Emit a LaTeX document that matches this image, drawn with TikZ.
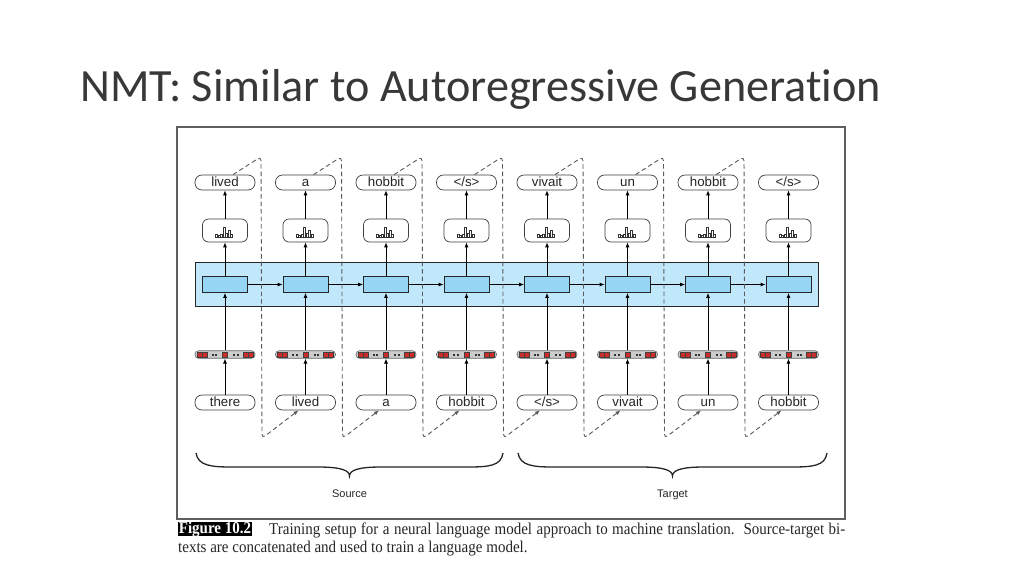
\documentclass[tikz,border=0pt]{standalone}
\usepackage{fontspec}
\setmainfont{Liberation Serif}
\newfontfamily\wordfont{Liberation Sans}
\newfontfamily\titlefont[Ligatures=NoCommon]{Carlito}
\newfontfamily\capfont[FakeStretch=0.91]{Liberation Serif}
\usetikzlibrary{arrows.meta,calc}
\definecolor{bandblue}{RGB}{192,232,250}
\definecolor{hidblue}{RGB}{150,214,244}
\definecolor{embred}{RGB}{205,45,40}
\definecolor{dashgray}{RGB}{90,90,90}
\definecolor{framegray}{RGB}{95,95,95}
\newcommand\eostok{</s>}
\tikzset{
  word/.style={draw=black!75, rounded corners=7pt, minimum width=60pt, minimum height=15pt,
    inner sep=0pt, text height=9.5pt, text depth=2.5pt, line width=0.7pt,
    font=\wordfont\fontsize{13.3}{13.3}\selectfont, text=black!85},
  histbox/.style={draw=black!75, rounded corners=6pt, minimum width=45pt, minimum height=23pt,
    inner sep=0pt, line width=0.7pt},
  hidbox/.style={draw=black!85, fill=hidblue, minimum width=45pt, minimum height=16pt,
    inner sep=0pt, line width=0.8pt},
  embbox/.style={draw=black!60, fill=black!20, rounded corners=3.5pt, minimum width=60pt,
    minimum height=7.5pt, inner sep=0pt, line width=0.6pt},
  bandbox/.style={draw=black!85, fill=bandblue, minimum width=623pt, minimum height=44pt,
    inner sep=0pt, line width=0.8pt},
  flow/.style={-{Latex[length=5pt,width=4pt]}, line width=0.8pt, black},
  feed/.style={dash pattern=on 4.5pt off 3pt, line width=0.9pt, dashgray, rounded corners=4pt,
    -{Latex[length=5pt,width=4pt]}},
  bracepath/.style={line width=1.3pt, black!85},
  bracelabel/.style={font=\wordfont\fontsize{11}{11}\selectfont, text=black!85, inner sep=0pt, anchor=base},
}
\begin{document}
\begin{tikzpicture}[x=1pt,y=-1pt]
\fill[white] (0,0) rectangle (1024,576);
\useasboundingbox (0,0) rectangle (1024,576);

% title
\node[anchor=base west, inner sep=0pt, font=\titlefont\fontsize{46.2}{50}\selectfont, text=black!78]
  (title) at (80,101) {NMT: Similar to Autoregressive Generation};

% figure frame
\draw[framegray, line width=1.2pt] (177,127) rectangle (845,519);

% recurrent band
\node[bandbox] (band) at (506.5,284) {};

% columns
\foreach \i/\o/\w in {0/lived/there, 1/a/lived, 2/hobbit/a, 3/\eostok/hobbit,
                      4/vivait/\eostok, 5/un/vivait, 6/hobbit/un, 7/\eostok/hobbit} {
  \pgfmathsetmacro\cx{225+80.5*\i}
  \node[word] (out\i) at (\cx,182.5) {\o};
  \node[histbox] (hist\i) at (\cx,230.5) {};
  \node[hidbox] (hid\i) at (\cx,284.5) {};
  \node[embbox] (emb\i) at (\cx,354.5) {};
  \node[word] (in\i) at (\cx,402.5) {\w};
  % histogram bars
  \foreach \bx/\bh in {-8.5/2.5, -6/2, -3.5/3, -1/10, 1.5/3.5, 4/7, 6.5/2.5} {
    \draw[black!80, fill=white, line width=0.55pt] ($(hist\i.south)+(\bx-1,-5.5)$) rectangle ++(2,-\bh);
  }
  % embedding cells
  \foreach \dx in {-12.5,-9,9,12.5} {
    \fill[black!80] ($(emb\i.center)+(\dx-1,-1)$) rectangle ++(2,2);
  }
  \foreach \dx in {-25.5,-20.5,0,20.5,25.5} {
    \draw[fill=embred, draw=black!75, line width=0.45pt] ($(emb\i.center)+(\dx-2.4,-2.4)$) rectangle ++(4.8,4.8);
  }
  % vertical flow
  \draw[flow] (in\i.north) -- (emb\i.south);
  \draw[flow] (emb\i.north) -- (hid\i.south);
  \draw[flow] (hid\i.north) -- (hist\i.south);
  \draw[flow] (hist\i.north) -- (out\i.south);
}

% horizontal recurrence
\foreach \i [evaluate=\i as \j using int(\i+1)] in {0,...,6} {
  \draw[flow] (hid\i.east) -- (hid\j.west);
}

% output fed back as next input
\foreach \i [evaluate=\i as \j using int(\i+1)] in {0,...,6} {
  \draw[feed] ($(out\i.north)+(8,0)$) -- ($(out\i.north)+(36,-18)$)
     -- ($(in\i.south)+(37,28)$) -- ($(in\j.south)+(-7,0)$);
}

% braces
\draw[bracepath] (196,453) .. controls (198,466) and (212,467) .. (232,467) -- (318,467)
   .. controls (340,467) and (349.5,470) .. (349.5,476)
   .. controls (349.5,470) and (359,467) .. (381,467) -- (467,467)
   .. controls (489,467) and (501,466) .. (503,453);
\draw[bracepath] (518,453) .. controls (520,466) and (534,467) .. (554,467) -- (641,467)
   .. controls (663,467) and (672.5,470) .. (672.5,476)
   .. controls (672.5,470) and (682,467) .. (704,467) -- (791,467)
   .. controls (813,467) and (825,466) .. (827,453);
\node[bracelabel] (src) at (349.5,497) {Source};
\node[bracelabel] (tgt) at (672.5,497) {Target};

% caption
\node[fill=black, text=white, font=\capfont\bfseries\fontsize{16.5}{16.5}\selectfont, minimum width=74pt,
  minimum height=14pt, text height=11pt, text depth=3pt, inner sep=0pt] (figlab) at (215,529) {Figure 10.2};
\node[anchor=base west, inner sep=0pt, font=\capfont\fontsize{16.5}{16.5}\selectfont, text=black!85] (cap1) at (269,534)
  {\makebox[576pt][s]{Training setup for a neural language model approach to machine translation.\ \ Source-target bi-}};
\node[anchor=base west, inner sep=0pt, font=\capfont\fontsize{16.5}{16.5}\selectfont, text=black!85] (cap2) at (178,552)
  {texts are concatenated and used to train a language model.};
\end{tikzpicture}
\end{document}
